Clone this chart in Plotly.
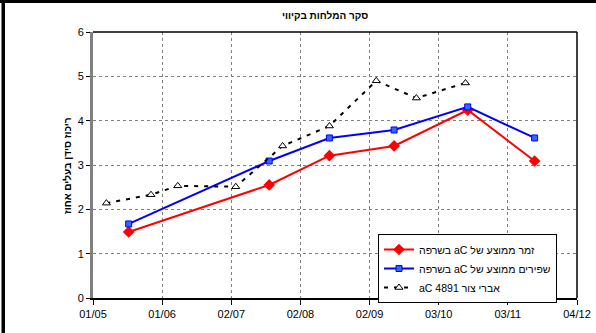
import plotly.graph_objects as go

# Calcium in leaves (%) by sampling date
zamar_dates = ["2005-05-17", "2005-07-19", "2005-08-15", "2005-09-13", "2005-10-16", "2005-11-15"]
zamar_ca = [1.49, 2.55, 3.21, 3.43, 4.24, 3.09]

shapirim_dates = ["2005-05-17", "2005-07-19", "2005-08-15", "2005-09-13", "2005-10-16", "2005-11-15"]
shapirim_ca = [1.67, 3.09, 3.61, 3.79, 4.31, 3.61]

avri_dates = ["2005-05-07", "2005-05-27", "2005-06-08", "2005-07-04", "2005-07-25",
              "2005-08-15", "2005-09-05", "2005-09-23", "2005-10-15"]
avri_ca = [2.14, 2.33, 2.53, 2.51, 3.43, 3.88, 4.90, 4.51, 4.85]

tick_dates = ["2005-05-01", "2005-06-01", "2005-07-02", "2005-08-02",
              "2005-09-02", "2005-10-03", "2005-11-03", "2005-12-04"]
tick_labels = ["01/05", "01/06", "02/07", "02/08", "02/09", "03/10", "03/11", "04/12"]

RLE, PDF = "\u202b", "\u202c"
names = [
    RLE + "זמר ממוצע של aC בשרפה" + PDF,
    RLE + "שפירים ממוצע של aC בשרפה" + PDF,
    RLE + "אברי צור 4891 aC" + PDF,
]
title_text = "סקר המלחות בקיווי"
y_title = "ריכוז סידן בעלים אחוז"

W, H = 596, 333
L, R, T, B = 93, 577, 32, 298  # plot area in pixels


def px(x):
    return (x - L) / (R - L)


def py(y):
    return (B - y) / (B - T)


FONT = "Arial, Liberation Sans, sans-serif"

fig = go.Figure()
fig.add_trace(go.Scatter(
    x=zamar_dates, y=zamar_ca, name=names[0], mode="lines+markers",
    line=dict(color="#ff0000", width=2),
    marker=dict(symbol="diamond", size=9, color="#ff0000"),
))
fig.add_trace(go.Scatter(
    x=shapirim_dates, y=shapirim_ca, name=names[1], mode="lines+markers",
    line=dict(color="#0000ff", width=2),
    marker=dict(symbol="square", size=6, color="#3366ff", line=dict(color="#0000ff", width=1)),
))
fig.add_trace(go.Scatter(
    x=avri_dates, y=avri_ca, name=names[2], mode="lines+markers",
    line=dict(color="#000000", width=2, dash="4px,6px"),
    marker=dict(symbol="triangle-up", size=7, color="#ffffff", line=dict(color="#000000", width=1)),
))

fig.update_xaxes(
    type="date", range=[tick_dates[0], tick_dates[-1]], autorange=False,
    tickmode="array", tickvals=tick_dates, ticktext=tick_labels,
    showgrid=True, gridcolor="#808080", griddash="dot", gridwidth=1,
    showline=True, linecolor="#000000", linewidth=2,
    ticks="outside", ticklen=5, tickcolor="#000000", tickwidth=1,
    tickfont=dict(family=FONT, size=11, color="#000000"),
    zeroline=False, automargin=False,
)
fig.update_yaxes(
    range=[0, 6], dtick=1, autorange=False,
    showgrid=True, gridcolor="#808080", griddash="dot", gridwidth=1,
    showline=True, linecolor="#808080", linewidth=3,
    ticks="outside", ticklen=4, tickcolor="#000000", tickwidth=1,
    tickfont=dict(family=FONT, size=11, color="#000000"),
    zeroline=False, automargin=False,
)

shapes = [
    # plot area top and right edges
    dict(type="line", xref="paper", yref="paper", x0=0, x1=1, y0=1, y1=1,
         line=dict(color="#000000", width=1.5)),
    dict(type="line", xref="paper", yref="paper", x0=1, x1=1, y0=0, y1=1,
         line=dict(color="#000000", width=1.5)),
    # outer frame (top and left)
    dict(type="rect", xref="paper", yref="paper", x0=px(0), x1=px(W), y0=py(3), y1=py(0),
         fillcolor="#000000", line=dict(width=0), layer="above"),
    dict(type="rect", xref="paper", yref="paper", x0=px(1.5), x1=px(5), y0=py(H), y1=py(0),
         fillcolor="#000000", line=dict(width=0), layer="above"),
]

annotations = [
    dict(text="<b>" + title_text + "</b>", xref="paper", yref="paper",
         x=px(325), y=py(15), xanchor="center", yanchor="middle", showarrow=False,
         font=dict(family=FONT, size=10, color="#000000")),
    dict(text="<b>" + y_title + "</b>", xref="paper", yref="paper",
         x=px(67), y=py(166), xanchor="center", yanchor="middle", showarrow=False,
         textangle=-90, font=dict(family=FONT, size=10, color="#000000")),
]

fig.update_layout(
    width=W, height=H, autosize=False,
    margin=dict(l=L, r=W - R, t=T, b=H - B, pad=0, autoexpand=False),
    paper_bgcolor="#ffffff", plot_bgcolor="#ffffff",
    showlegend=True,
    legend=dict(
        x=px(378), y=py(234), xanchor="left", yanchor="top",
        bgcolor="#ffffff", bordercolor="#000000", borderwidth=1,
        font=dict(family=FONT, size=10.5, color="#000000"),
        tracegroupgap=0, itemwidth=30,
    ),
    shapes=shapes,
    annotations=annotations,
)

fig.write_html("out.html", config={"responsive": False})
